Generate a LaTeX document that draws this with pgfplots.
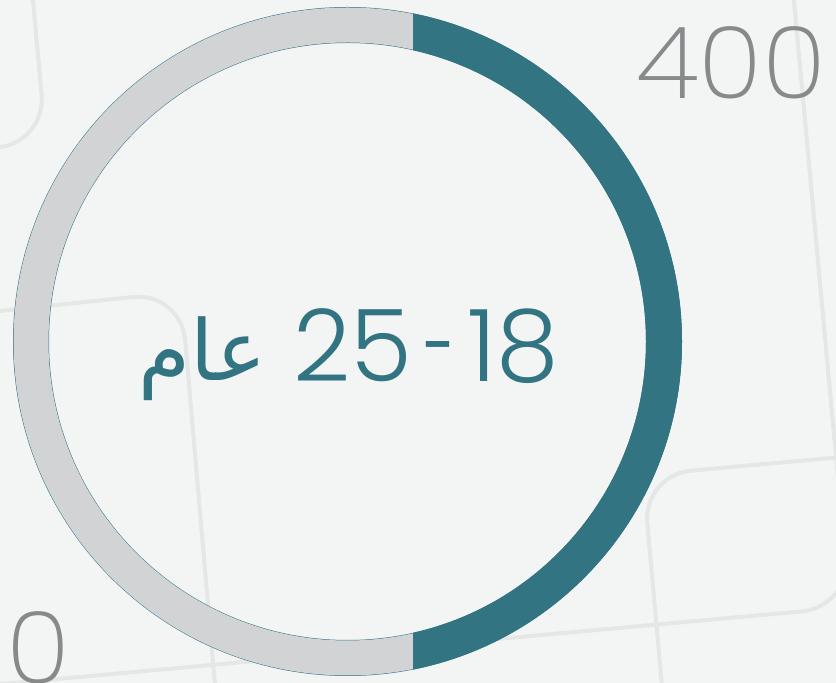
\documentclass[border=0pt]{standalone}
\usepackage{pgfplots}
\pgfplotsset{compat=1.18}
\usepackage{graphicx}
\usepackage{fontspec}
\TeXXeTstate=1
\newfontfamily\numfont{Poppins Light}
\newfontfamily\labfont{Poppins ExtraLight}[FakeStretch=1.06]
\newfontfamily\arabicfont[Script=Arabic]{DejaVu Sans}
\definecolor{bg}{RGB}{243,245,245}
\definecolor{gridl}{RGB}{229,231,231}
\definecolor{ringteal}{RGB}{50,116,130}
\definecolor{ringgray}{RGB}{209,211,213}
\definecolor{labgray}{RGB}{136,137,139}
% data: share of the 18-25 group on a scale of 0..400
\def\segval{200}
\def\segtotal{400}
\pgfmathsetmacro{\segend}{90-360*(\segval/\segtotal)}
\begin{document}
\begin{tikzpicture}
\begin{axis}[name=ax, at={(0,0)}, anchor=south west,
  scale only axis, width=418pt, height=341.5pt,
  xmin=0, xmax=836, ymin=0, ymax=683, y dir=reverse,
  hide axis, clip=true]
  % background
  \fill[bg] (axis cs:0,0) rectangle (axis cs:836,683);
  % faint background tiles
  \begin{scope}[gridl, line width=2pt, rounded corners=24pt]
    \draw (axis cs:32,-10) -- (axis cs:46,143) -- (axis cs:-20,149);
    \draw (axis cs:-20,313) -- (axis cs:181,292) -- (axis cs:218,720);
    \draw (axis cs:-20,686) -- (axis cs:850,607) -- (axis cs:838,450);
    \draw (axis cs:920,450) -- (axis cs:643,475) -- (axis cs:665,720);
    \draw (axis cs:793,-10) -- (axis cs:840,500);
  \end{scope}
  % donut ring
  \coordinate (c) at (axis cs:347.5,341.5);
  \draw[ringteal, line width=18pt] (c) circle[radius=158.25pt];
  \begin{scope}
    \clip (axis cs:-10,-10) rectangle (axis cs:413,700);
    \draw[ringgray, line width=17.5pt] (c) circle[radius=158.25pt];
  \end{scope}
  \begin{scope}
    \clip (axis cs:413,-10) rectangle (axis cs:900,700);
    \draw[ringteal, line width=18pt] (c) ++(90:158.25pt)
      arc[start angle=90, end angle=\segend, radius=158.25pt];
  \end{scope}
  % labels
  \node[anchor=base east, inner sep=0pt, text=labgray,
    font=\labfont\fontsize{50}{60}\selectfont] at (axis cs:827,99) {400};
  \node[anchor=base east, inner sep=0pt, text=labgray,
    font=\labfont\fontsize{50}{60}\selectfont] at (axis cs:71,684) {200};
  \node[anchor=base west, inner sep=0pt, text=ringteal,
    font=\numfont\fontsize{50}{60}\selectfont] at (axis cs:293,382)
    {25\kern6pt\scalebox{0.6}[1]{-}\kern6pt18};
  \node[anchor=base east, inner sep=0pt, text=ringteal,
    font=\arabicfont\fontsize{42}{50}\selectfont] at (axis cs:267,381) {\beginR عام\endR};
\end{axis}
\pgfresetboundingbox
\path[use as bounding box] (ax.south west) rectangle (ax.north east);
\end{tikzpicture}
\end{document}
